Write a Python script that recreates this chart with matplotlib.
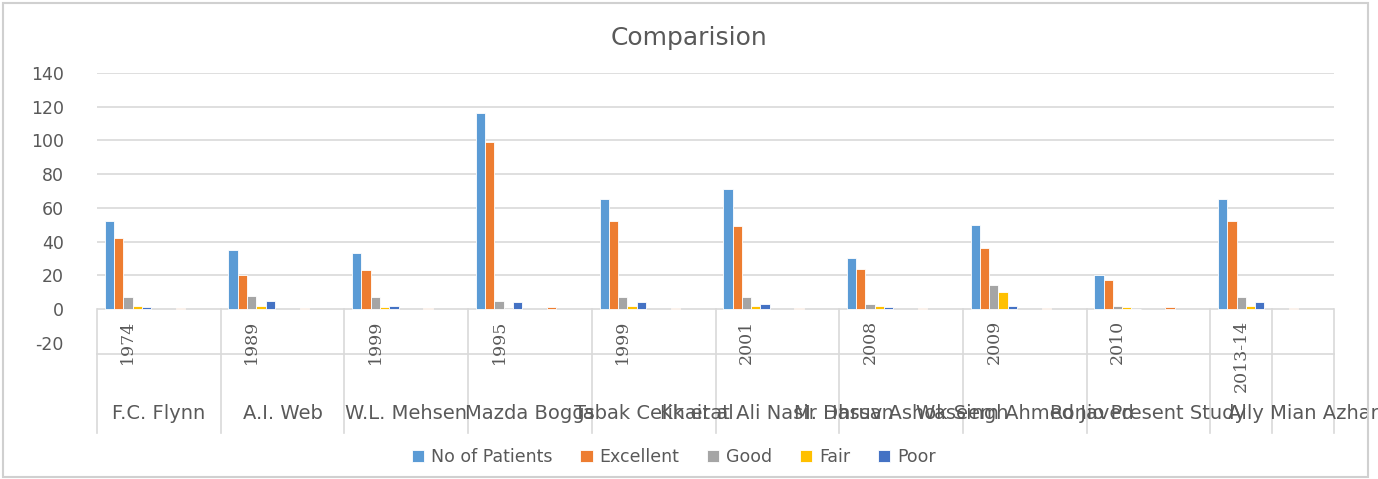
import numpy as np
import matplotlib
matplotlib.use("Agg")
import matplotlib.pyplot as plt
from matplotlib.patches import Rectangle
from matplotlib.transforms import blended_transform_factory

# ---------------- data ----------------
years = ["1974", "", "1989", "", "1999", "", "1995", "", "1999", "",
         "2001", "", "2008", "", "2009", "", "2010", "", "2013-14", ""]
names = ["F.C. Flynn", "A.I. Web", "W.L. Mehsen", "Mazda Boggs",
         "Tabak Celik et al", "Khairat Ali Nasir Hassan", "M. Dhruv Ashok Singh",
         "Waseem Ahmed Javed", "Ronio Present Study", "", "Ally Mian Azhar"]
name_spans = [2, 2, 2, 2, 2, 2, 2, 2, 2, 1, 1]

nan = np.nan
patients = [52, nan, 35, nan, 33, nan, 116, nan, 65, nan, 71, nan, 30, nan, 50, nan, 20, nan, 65, nan]
excellent = [42, 0.5, 20, 0.5, 23, 0.5, 99, 1, 52, 0.5, 49, 0.5, 24, 0.5, 36, 0.5, 17, 1, 52, 0.5]
good = [7, nan, 8, nan, 7, nan, 5, nan, 7, nan, 7, nan, 3, nan, 14, nan, 2, nan, 7, nan]
fair = [2, nan, 2, nan, 1, nan, 0, nan, 2, nan, 2, nan, 2, nan, 10, nan, 1, nan, 2, nan]
poor = [1, nan, 5, nan, 2, nan, 4, nan, 4, nan, 3, nan, 1, nan, 2, nan, 0, nan, 4, nan]

series_names = ["No of Patients", "Excellent", "Good", "Fair", "Poor"]
series = [patients, excellent, good, fair, poor]
colors = ["#5B9BD5", "#ED7D31", "#A5A5A5", "#FFC000", "#4472C4"]

# ---------------- figure ----------------
W, H = 1378, 479
plt.rcParams['font.family'] = ['DejaVu Sans']
plt.rcParams['axes.unicode_minus'] = False
fig = plt.figure(figsize=(W / 100, H / 100), dpi=100)
txt_col = "#595959"
line_col = "#D9D9D9"

fig.patches.append(Rectangle((3 / W, 2 / H), 1 - 13 / W, 1 - 5 / H, transform=fig.transFigure,
                             fill=False, edgecolor="#D0D0D0", lw=1.5))

left, right = 97 / W, 1334 / W
top_px, bot_px = 73, 342.7
ax = fig.add_axes([left, 1 - bot_px / H, right - left, (bot_px - top_px) / H])

n = len(years)
x = np.arange(n)
bw = 0.15
for i, (vals, c, lab) in enumerate(zip(series, colors, series_names)):
    ax.bar(x + (i - 2) * bw, vals, width=bw, color=c, edgecolor="white",
           linewidth=0.6, label=lab, zorder=3)

ax.set_xlim(-0.5, n - 0.5)
ax.set_ylim(-20, 140)
ax.set_yticks(np.arange(-20, 141, 20))
ax.tick_params(axis='y', length=0, labelsize=12.5, labelcolor=txt_col, pad=24)
ax.set_xticks([])
for s in ax.spines.values():
    s.set_visible(False)
for yv in range(20, 141, 20):
    ax.axhline(yv, color=line_col, lw=1.2, zorder=1)
ax.axhline(0, color=line_col, lw=1.2, zorder=1)

# ---------------- multi-level category axis ----------------
axes_h = bot_px - top_px
def frac(px):
    return (bot_px - px) / axes_h

tr = blended_transform_factory(ax.transData, ax.transAxes)
y_zero = frac(309)
y_mid = frac(354)
y_bot = frac(433)

bounds = np.concatenate([[0], np.cumsum(name_spans)]) - 0.5
for b in bounds:
    ax.plot([b, b], [y_zero, y_bot], transform=tr, color=line_col, lw=1.2, clip_on=False)
ax.plot([-0.5, n - 0.5], [y_mid, y_mid], transform=tr, color=line_col, lw=1.2, clip_on=False)

for i, yr in enumerate(years):
    if yr:
        ax.text(i, frac(320), yr, transform=tr, rotation=90, ha='center', va='top',
                fontsize=12.5, family='DejaVu Serif', color=txt_col, clip_on=False)

for k, nm in enumerate(names):
    cx = (bounds[k] + bounds[k + 1]) / 2
    ax.text(cx, frac(414), nm, transform=tr, ha='center', va='center',
            fontsize=14, color=txt_col, clip_on=False)

fig.text(0.5, 1 - 38 / H, "Comparision", ha='center', va='center', fontsize=18, color=txt_col)

fig.legend(loc='center', bbox_to_anchor=(674 / W, 1 - 457 / H), ncol=5, frameon=False,
           fontsize=12.5, labelcolor=txt_col, handlelength=0.7, handleheight=0.7,
           handletextpad=0.4, columnspacing=1.6)

fig.savefig("out.png", dpi=100)
